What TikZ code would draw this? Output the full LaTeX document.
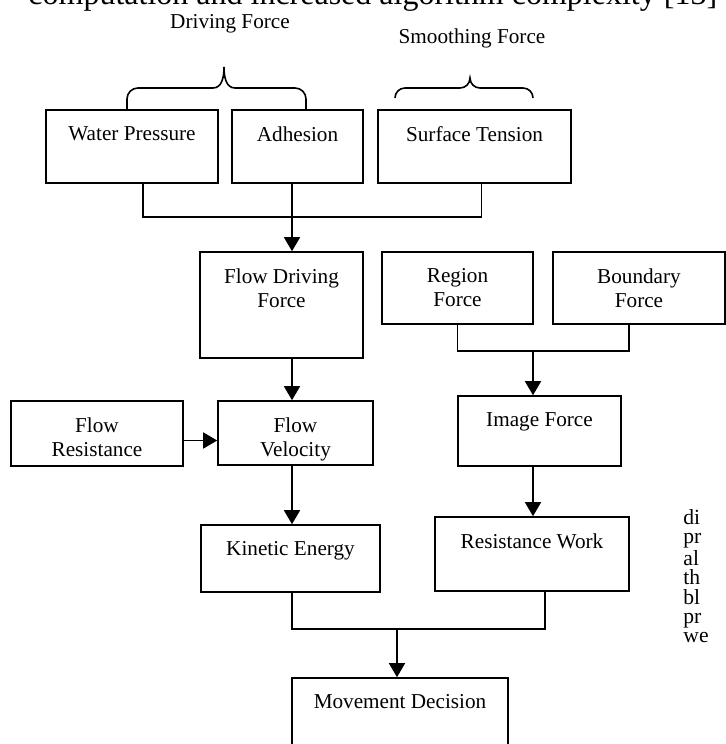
\documentclass[tikz,border=0pt]{standalone}
\usepackage{fontspec}
\setmainfont{Liberation Serif}
\usetikzlibrary{arrows.meta,positioning,fit}

\newcommand{\boxfont}{\fontsize{10.6}{12}\selectfont}
\newcommand{\colfont}{\fontsize{10.8}{9.7}\selectfont}
\newcommand{\topfont}{\fontsize{16}{18}\selectfont}
\tikzset{
  box/.style={draw, rectangle, line width=0.8pt, inner sep=0pt},
  txt/.style={anchor=north, align=center, inner sep=0pt, yshift=-8.4pt, font=\boxfont},
  arr/.style={-{Triangle[length=7pt,width=8pt]}, line width=0.8pt},
  link/.style={line width=0.8pt},
}

\begin{document}
\begin{tikzpicture}[x=0.5pt, y=-0.5pt, font=\boxfont]

    \useasboundingbox (0,0) rectangle (726,744);
    \clip (0,0) rectangle (726,744);

    % Surrounding page text, cut by the frame
    \node (cut) [anchor=base west, inner sep=0pt, font=\topfont] at (28,4)
        {computation and increased algorithm complexity [13]};
    \node (col) [anchor=north west, inner sep=0pt, align=left, font=\colfont] at (683,509)
        {di\\pr\\al\\th\\bl\\pr\\we};

    % Headings and braces
    \node (drv) [anchor=base, inner sep=0pt] at (230,28) {Driving Force};
    \node (smf) [anchor=base, inner sep=0pt] at (472,43) {Smoothing Force};
    \draw[link] (127,110) -- (127,99) to[out=90,in=180] (138,88) -- (213,88)
        to[out=0,in=-90] (224,67) to[out=-90,in=180] (235,88) -- (295,88)
        to[out=0,in=90] (306,99) -- (306,110);
    \draw[link] (395,98) to[out=90,in=180] (405,88) -- (460,88)
        to[out=0,in=-90] (470,78) to[out=-90,in=180] (480,88) -- (523,88)
        to[out=0,in=90] (533,98);

    % Force boxes
    \node (wp)  [box, fit={(46,110) (218,183)},  label={[txt, name=wpt]north:Water Pressure}] {};
    \node (adh) [box, fit={(232,110) (363,183)}, label={[txt, name=adht]north:Adhesion}] {};
    \node (st)  [box, fit={(378,110) (571,183)}, label={[txt, name=stt]north:Surface Tension}] {};

    \node (fdf) [box, fit={(200,252) (363,358)}, label={[txt, name=fdft]north:Flow Driving\\Force}] {};
    \node (rf)  [box, fit={(382,252) (533,324)}, label={[txt, name=rft]north:Region\\Force}] {};
    \node (bf)  [box, fit={(553,252) (725,324)}, label={[txt, name=bft]north:Boundary\\Force}] {};

    \node (fr)  [box, fit={(11,401) (183,466)},  label={[txt, name=frt]north:Flow\\Resistance}] {};
    \node (fv)  [box, fit={(218,401) (373,465)}, label={[txt, name=fvt]north:Flow\\Velocity}] {};
    \node (imf) [box, fit={(458,396) (621,466)}, label={[txt, name=imft]north:Image Force}] {};

    \node (ke)  [box, fit={(201,525) (380,592)}, label={[txt, name=ket]north:Kinetic Energy}] {};
    \node (rw)  [box, fit={(435,517) (629,591)}, label={[txt, name=rwt]north:Resistance Work}] {};

    \node (md)  [box, fit={(292,678) (508,770)}, label={[txt, name=mdt]north:Movement Decision}] {};

    % Junctions
    \coordinate (j1) at (292,217);
    \coordinate (j2) at (533,351);
    \coordinate (j3) at (397,629);

    % Connectors
    \draw[link] ([xshift=5.5pt]wp.south) |- (j1) -| ([xshift=3.5pt]st.south);
    \draw[arr] (adh.south -| j1) -- (fdf.north -| j1);
    \draw[arr] (fdf.south -| j1) -- (fv.north -| j1);
    \draw[arr] ([yshift=-3.5pt]fr.east) -- ([yshift=-3.5pt]fr.east -| fv.west);
    \draw[arr] (fv.south -| j1) -- (ke.north -| j1);

    \draw[link] (rf.south) |- (j2) -| ([xshift=-5pt]bf.south);
    \draw[arr] (j2) -- (imf.north -| j2);
    \draw[arr] (imf.south -| j2) -- (rw.north -| j2);

    \draw[link] (ke.south -| j1) |- (j3) -| ([xshift=6.5pt]rw.south);
    \draw[arr] (j3) -- (md.north -| j3);

\end{tikzpicture}
\end{document}
